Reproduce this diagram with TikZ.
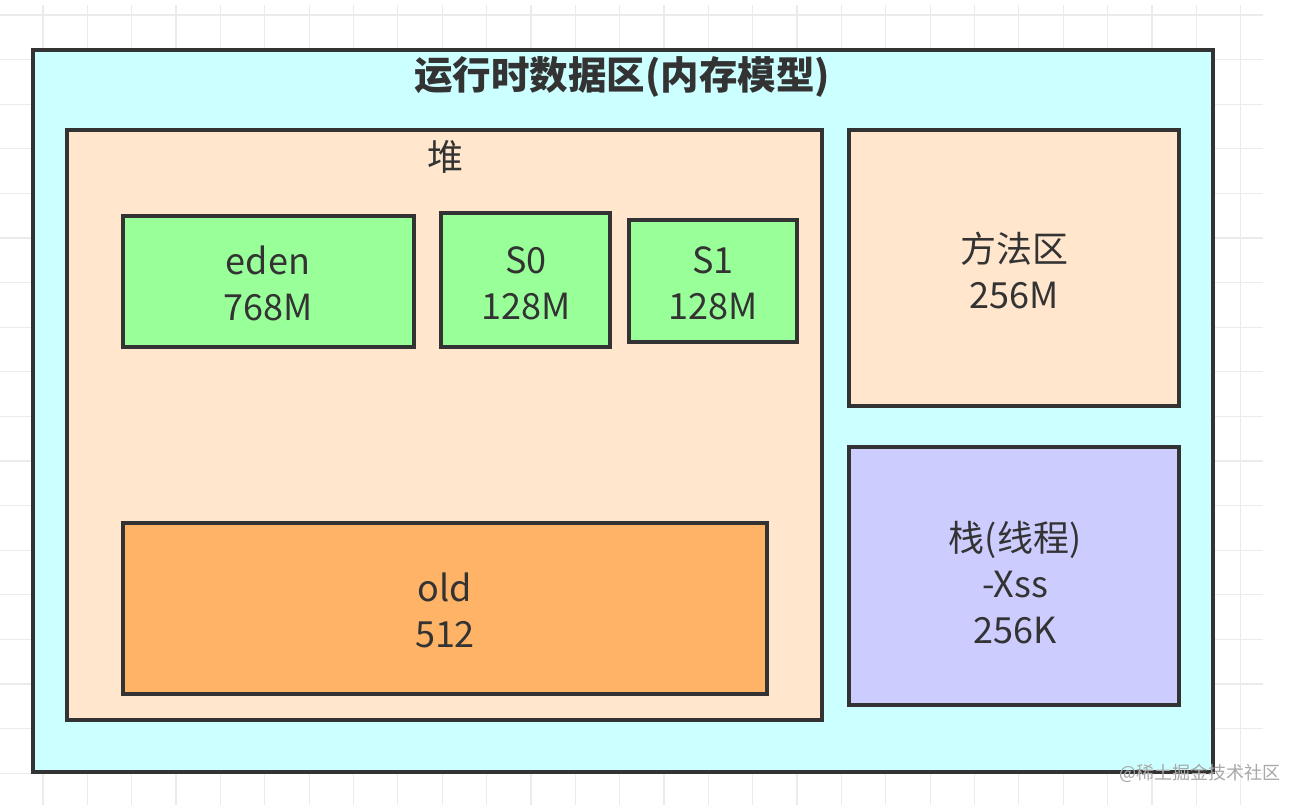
\documentclass[tikz,border=0pt]{standalone}
\usepackage{fontspec}
\setmainfont{Noto Sans CJK SC}
\usetikzlibrary{positioning}
\definecolor{gridc}{HTML}{EBEBEB}
\definecolor{edgec}{HTML}{333333}
\definecolor{txtc}{HTML}{333333}
\definecolor{cyanbg}{HTML}{CCFFFF}
\definecolor{peach}{HTML}{FFE6CC}
\definecolor{greenb}{HTML}{99FF99}
\definecolor{orangeb}{HTML}{FFB366}
\definecolor{violetb}{HTML}{CCCCFF}
\definecolor{markc}{HTML}{A8A8A8}
\tikzset{
  box/.style={draw=edgec, line width=3.5pt},
  lbl/.style={text=txtc, align=center, inner sep=0pt, font=\fontsize{36}{46}\selectfont},
}
\begin{document}
\begin{tikzpicture}[x=1pt,y=-1pt]
\useasboundingbox (0,0) rectangle (1303,805);
\fill[white] (0,0) rectangle (1303,805);
% grid
\foreach \k in {0,...,28} {
  \draw[gridc, line width=1.2pt] ({-1.4+44.36*\k},5) -- ({-1.4+44.36*\k},805);
}
\foreach \k in {0,...,17} {
  \draw[gridc, line width=1.2pt] (0,{15+44.6*\k}) -- (1263,{15+44.6*\k});
}
% boxes
\path[box, fill=cyanbg] (33,50) rectangle (1213,772);
\path[box, fill=peach] (67,130) rectangle (822,720);
\path[box, fill=greenb] (123,216) rectangle (414,347);
\path[box, fill=greenb] (441,213) rectangle (610,347);
\path[box, fill=greenb] (629,220) rectangle (797,342);
\path[box, fill=orangeb] (123,523) rectangle (767,694);
\path[box, fill=peach] (849,130) rectangle (1179,406);
\path[box, fill=violetb] (849,447) rectangle (1179,705);
% texts
\node[lbl, font=\fontsize{38.5}{46}\selectfont\bfseries] (title) at (622,77) {运行时数据区(内存模型)};
\node[lbl] (heap) at (445,157) {堆};
\node[lbl] (eden) at (268,283) {eden\\768M};
\node[lbl] (s0) at (526,283) {S0\\128M};
\node[lbl] (s1) at (713,283) {S1\\128M};
\node[lbl] (old) at (445,610) {old\\512};
\node[lbl] (method) at (1014,271) {方法区\\256M};
\node[lbl] (stack) at (1015,583) {栈(线程)\\-Xss\\256K};
\node[text=markc, inner sep=0pt, font=\fontsize{18}{20}\selectfont] (mark) at (1200,773) {@稀土掘金技术社区};
\end{tikzpicture}
\end{document}
